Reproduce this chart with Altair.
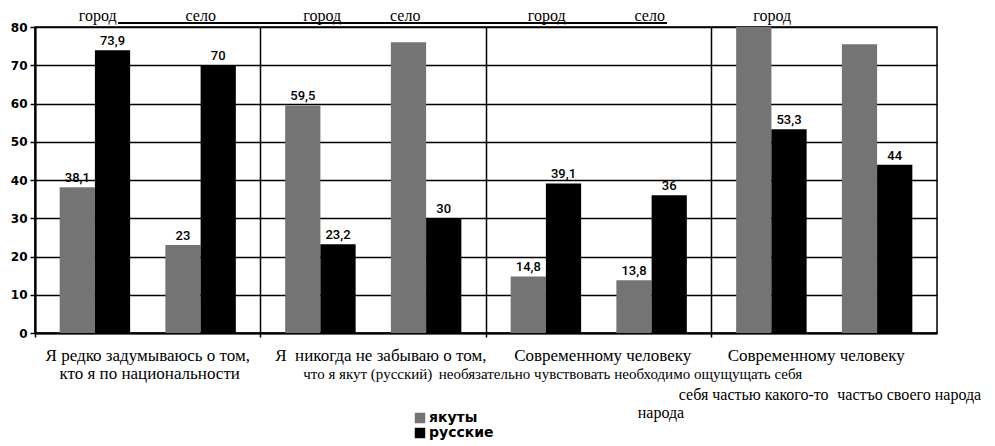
import altair as alt
import pandas as pd

# ---- data ----
groups = ["1", "2", "3", "4"]
places = ["город", "село"]
nations = ["якуты", "русские"]

yakut_city = [38.1, 59.5, 14.8, 80]
yakut_village = [23, 76, 13.8, 75.5]
rus_city = [73.9, 23.2, 39.1, 53.3]
rus_village = [70, 30, 36, 44]

yakut_city_lbl = ["38,1", "59,5", "14,8", ""]
yakut_village_lbl = ["23", "", "13,8", ""]
rus_city_lbl = ["73,9", "23,2", "39,1", "53,3"]
rus_village_lbl = ["70", "30", "36", "44"]

y_ticks = [0, 10, 20, 30, 40, 50, 60, 70, 80]

top_label_groups = ["1", "1", "2", "2", "3", "3", "4"]
top_label_places = ["город", "село", "город", "село", "город", "село", "город"]

# bottom statement text segments (group, line, text) as printed
seg_groups = ["1", "1", "2", "2", "3", "3", "3", "3", "4", "4", "4"]
seg_lines = [1, 2, 1, 2, 1, 2, 3, 4, 1, 2, 3]
seg_texts = [
    "Я редко задумываюсь о том,",
    "кто я по национальности",
    "Я\u00a0 никогда не забываю о том,",
    "что я якут (русский)",
    "Современному человеку",
    "необязательно чувствовать",
    "себя частью какого-то",
    "народа",
    "Современному человеку",
    "необходимо ощущущать себя",
    "частъо своего народа",
]

SERIF = "Liberation Serif"
NARROW = "Roboto"

# ---- build table ----
rows = []
series = [
    ("якуты", "город", yakut_city, yakut_city_lbl),
    ("якуты", "село", yakut_village, yakut_village_lbl),
    ("русские", "город", rus_city, rus_city_lbl),
    ("русские", "село", rus_village, rus_village_lbl),
]
for nation, place, vals, lbls in series:
    for g, v, l in zip(groups, vals, lbls):
        rows.append({"group": g, "place": place, "nation": nation,
                     "value": v, "label": l, "slot": place + "|" + nation})
df = pd.DataFrame(rows)

slots = ["город|якуты", "город|русские", "gap", "село|якуты", "село|русские"]

X = alt.X(
    "group:N",
    scale=alt.Scale(domain=groups, paddingInner=0, paddingOuter=0),
    axis=alt.Axis(labels=False, title=None, grid=True, bandPosition=0,
                  gridColor="black", gridWidth=1.5, gridOpacity=1,
                  ticks=True, tickSize=4, tickColor="black", tickWidth=1.5,
                  domainColor="black", domainWidth=2),
)
XO = alt.XOffset("slot:N", scale=alt.Scale(domain=slots, paddingInner=0, paddingOuter=0.7))
Y = alt.Y(
    "value:Q",
    scale=alt.Scale(domain=[0, 80], nice=False),
    axis=alt.Axis(values=y_ticks, title=None, grid=True, gridColor="black",
                  gridWidth=1.5, gridOpacity=1, domainColor="black", domainWidth=2,
                  tickColor="black", tickSize=5, tickWidth=1.5,
                  labelFont="DejaVu Sans", labelFontWeight="bold", labelFontSize=12,
                  labelColor="black", labelPadding=3, format="d"),
)

base = alt.Chart(df)

bars = base.mark_bar().encode(
    x=X, xOffset=XO, y=Y,
    color=alt.Color("nation:N",
                    scale=alt.Scale(domain=nations, range=["#747474", "#000000"]),
                    legend=alt.Legend(title=None, orient="none", legendX=378, legendY=384,
                                      symbolType="square", symbolSize=110,
                                      symbolStrokeWidth=0, labelFont="DejaVu Sans",
                                      labelFontWeight="bold", labelFontSize=14,
                                      labelColor="black", rowPadding=1, padding=0,
                                      labelOffset=2)),
)

value_labels = base.mark_text(
    baseline="alphabetic", dy=-5, font=NARROW, fontWeight=500,
    fontSize=13, color="black",
).encode(x=X, xOffset=XO, y=Y, text="label:N")

# top "город / село" captions: dx from the group centre
top_dx = [-50, 53, -51, 32, -52, 51, -52]
top_df = pd.DataFrame({"group": top_label_groups, "place": top_label_places})
top_layers = []
for i, dx in enumerate(top_dx):
    top_layers.append(
        alt.Chart(top_df.iloc[[i]]).mark_text(
            dx=dx, baseline="alphabetic", font=SERIF, fontSize=16, color="black"
        ).encode(x=X, y=alt.value(-6), text="place:N")
    )

underline = alt.Chart(top_df).mark_rule(color="black", strokeWidth=1).encode(
    x=alt.value(83), x2=alt.value(632), y=alt.value(-4)
)

# layout of the printed statement segments: (dx from group centre, align, size)
seg_layout = [
    (0, "center", 17), (2, "center", 17),
    (-98, "left", 17), (-70, "left", 15),
    (4, "center", 17), (-160, "left", 15), (80, "left", 16), (39, "left", 16),
    (-8, "center", 17), (-210, "left", 15), (13, "left", 16),
]
line_y = {1: 329, 2: 347, 3: 368, 4: 386}

seg_df = pd.DataFrame({"group": seg_groups, "line": seg_lines, "text": seg_texts})
seg_layers = []
for i, (dx, align, size) in enumerate(seg_layout):
    seg_layers.append(
        alt.Chart(seg_df.iloc[[i]]).mark_text(
            dx=dx, align=align, baseline="middle", font=SERIF,
            fontSize=size, color="black"
        ).encode(x=X, y=alt.value(line_y[seg_lines[i]]), text="text:N")
    )

chart = alt.layer(bars, value_labels, *top_layers, underline, *seg_layers).properties(
    width=902, height=306, background="white",
    autosize=alt.AutoSizeParams(type="none"),
    padding={"left": 27, "top": 19, "right": 50, "bottom": 113},
).configure_view(stroke="black", strokeWidth=1.5)

chart.save("out.html", embed_options={"renderer": "svg", "actions": False})
